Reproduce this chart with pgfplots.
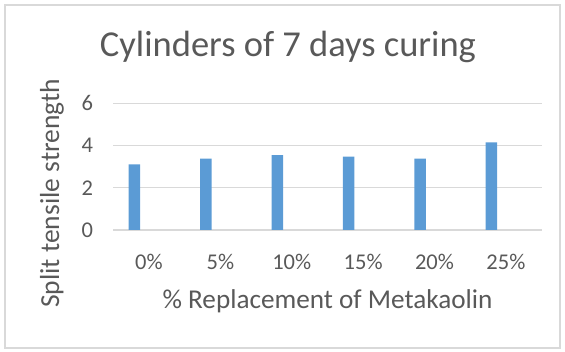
\documentclass[border=0pt]{standalone}
\usepackage{fontspec}
\setmainfont{Carlito}
\usepackage{pgfplots}
\pgfplotsset{compat=1.18}
\definecolor{barblue}{HTML}{5B9BD5}
\definecolor{txt}{HTML}{595959}
\definecolor{gridc}{HTML}{D9D9D9}
\begin{document}
\begin{tikzpicture}[x=1pt,y=1pt]
\useasboundingbox (0,0) rectangle (565,351);
\draw[gridc, line width=1.2pt] (5,3) rectangle (560,346);
\begin{axis}[
  at={(113.3pt,121pt)}, anchor=south west,
  scale only axis, width=428.3pt, height=126.7pt,
  xmin=-0.5, xmax=5.5, ymin=0, ymax=6,
  xtick={0,1,2,3,4,5},
  xticklabels={0\%,5\%,10\%,15\%,20\%,25\%},
  ytick={0,2,4,6},
  ymajorgrids, grid style={gridc, line width=1.2pt},
  axis line style={draw=none},
  major tick length=0pt,
  /pgf/number format/assume math mode=true,
  tick label style={font=\fontsize{22.5}{24}\selectfont, text=txt},
  xticklabel style={anchor=base, yshift=-39pt},
  yticklabel style={anchor=east, inner sep=0pt, xshift=-20pt},
  clip=false,
]
\addplot[ybar, bar width=11.5pt, bar shift=-14.5pt, fill=barblue, draw=none]
  coordinates {(0,3.11) (1,3.38) (2,3.54) (3,3.47) (4,3.38) (5,4.15)};
\end{axis}
\node[anchor=base, text=txt, font=\fontsize{36.5}{40}\selectfont, inner sep=0pt] at (288,294) {Cylinders of 7 days curing};
\node[anchor=base, text=txt, font=\fontsize{27.2}{30}\selectfont, inner sep=0pt] at (327.5,43) {\% Replacement of Metakaolin};
\node[anchor=center, rotate=90, text=txt, font=\fontsize{27.5}{30}\selectfont, inner sep=0pt] at (52,157.5) {Split tensile strength};
\end{tikzpicture}
\end{document}
